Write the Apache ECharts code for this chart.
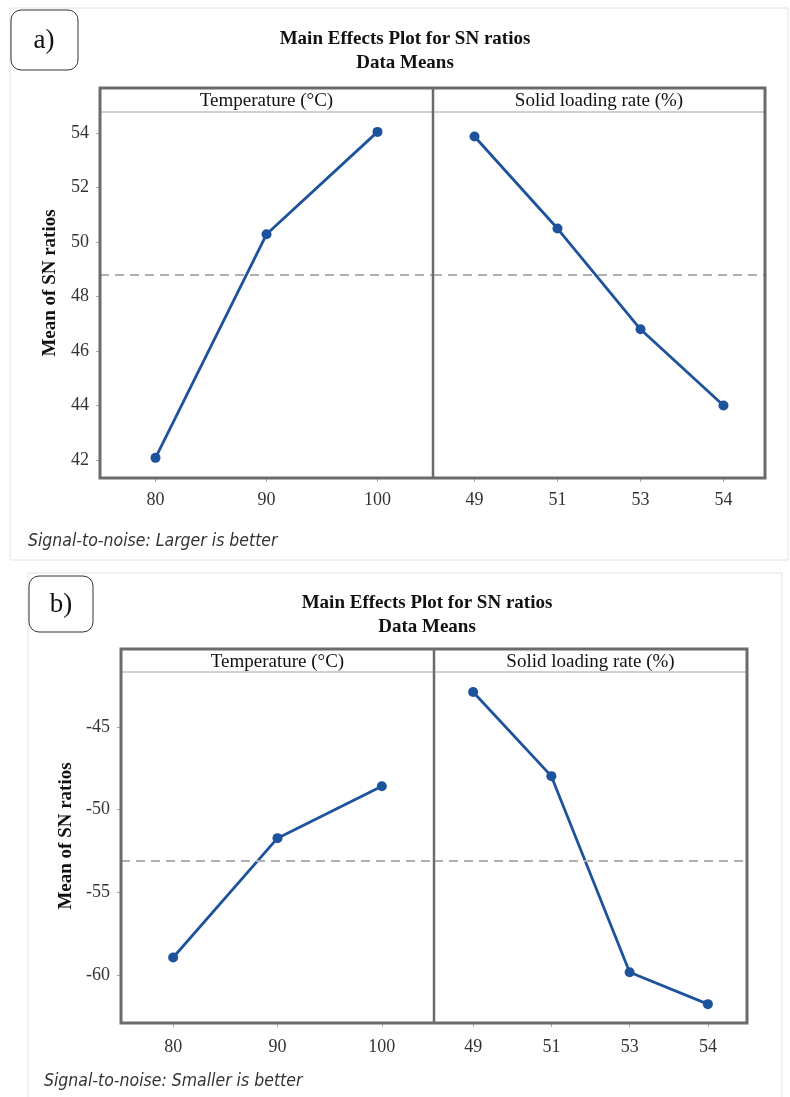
<!DOCTYPE html>
<html>
<head>
<meta charset="utf-8">
<script src="https://cdn.jsdelivr.net/npm/echarts@6/dist/echarts.min.js"></script>
<style>
  html, body { margin: 0; padding: 0; background: #fff; }
  #chart { width: 790px; height: 1097px; }
</style>
</head>
<body>
<div id="chart"></div>
<script>
const tempCats = ['80', '90', '100'];
const solidCats = ['49', '51', '53', '54'];
const facetNames = ['Temperature (°C)', 'Solid loading rate (%)'];

const tempA = [42.08, 50.29, 54.05];
const solidA = [53.88, 50.5, 46.8, 44.0];
const meanA = 48.81;

const tempB = [-58.95, -51.73, -48.59];
const solidB = [-42.89, -47.98, -59.84, -61.77];
const meanB = -53.08;

const blue = '#1c539c';
const serif = '"Liberation Serif", "Times New Roman", serif';
const narrow = '"DejaVu Sans Condensed", "Liberation Sans Narrow", sans-serif';

// panel layout: frame box, header line, divider, y range
const panels = [
  { frame: [100, 88, 765, 478], header: 112, div: 433, ymin: 41.34, ymax: 54.78, split: 6,
    temp: tempA, solid: solidA, mean: meanA, xMargin: 13, nameX: 50,
    title: [405, 39, 63], note: [28, 541, 'Signal-to-noise: Larger is better'] },
  { frame: [121, 649, 747, 1023], header: 672, div: 434, ymin: -62.91, ymax: -41.68, split: 4,
    temp: tempB, solid: solidB, mean: meanB, xMargin: 15, nameX: 66,
    title: [427, 603, 627], note: [44, 1081, 'Signal-to-noise: Smaller is better'] }
];

const grids = [], xAxes = [], yAxes = [], series = [];

panels.forEach(function (p) {
  const f = p.frame;
  const gl = { left: f[0], top: p.header, width: p.div - f[0], height: f[3] - p.header };
  const gr = { left: p.div, top: p.header, width: f[2] - p.div, height: f[3] - p.header };
  [gl, gr].forEach(function (g, k) {
    const idx = grids.length;
    grids.push(g);
    xAxes.push({
      type: 'category', gridIndex: idx, data: k === 0 ? tempCats : solidCats,
      boundaryGap: true,
      axisLine: { show: false },
      axisTick: { show: true, alignWithLabel: true, length: 4, lineStyle: { color: '#aaa' } },
      axisLabel: { color: '#333', fontFamily: serif, fontSize: 18, margin: p.xMargin }
    });
    yAxes.push({
      type: 'value', gridIndex: idx, min: p.ymin, max: p.ymax, splitNumber: p.split,
      splitLine: { show: false },
      axisLine: { show: false },
      axisTick: { show: k === 0, length: 4, lineStyle: { color: '#aaa' } },
      axisLabel: { show: k === 0, showMinLabel: false, showMaxLabel: false,
        color: '#333', fontFamily: serif, fontSize: 18, margin: 11 }
    });
    series.push({
      type: 'line', xAxisIndex: idx, yAxisIndex: idx,
      data: k === 0 ? p.temp : p.solid,
      symbol: 'circle', symbolSize: 10,
      lineStyle: { color: blue, width: 2.8 },
      itemStyle: { color: blue },
      markLine: {
        silent: true, symbol: 'none', label: { show: false },
        lineStyle: { color: '#b0b0b0', type: [9, 6], width: 2 },
        data: [{ yAxis: p.mean }]
      }
    });
  });
});

const graphics = [];
function txt(x, y, s, style, rot) {
  graphics.push({ type: 'text', x: x, y: y, z: 10, rotation: rot || 0,
    style: Object.assign({ text: s, fill: '#111', font: '19px ' + serif, textAlign: 'center', textVerticalAlign: 'middle' }, style) });
}
function line(x1, y1, x2, y2, color, w) {
  graphics.push({ type: 'line', z: 10, shape: { x1: x1, y1: y1, x2: x2, y2: y2 }, style: { stroke: color, lineWidth: w } });
}

// outer light borders
graphics.push({ type: 'rect', z: 0, shape: { x: 10, y: 8, width: 778, height: 552 }, style: { fill: 'none', stroke: '#e2e2e2', lineWidth: 1 } });
graphics.push({ type: 'rect', z: 0, shape: { x: 28, y: 573, width: 754, height: 530 }, style: { fill: 'none', stroke: '#e2e2e2', lineWidth: 1 } });

// label boxes
graphics.push({ type: 'rect', z: 10, shape: { x: 11, y: 10, width: 67, height: 60, r: 10 }, style: { fill: '#fff', stroke: '#333', lineWidth: 1 } });
txt(44, 41, 'a)', { font: '27px ' + serif });
graphics.push({ type: 'rect', z: 10, shape: { x: 29, y: 576, width: 64, height: 56, r: 10 }, style: { fill: '#fff', stroke: '#333', lineWidth: 1 } });
txt(61, 605, 'b)', { font: '27px ' + serif });

panels.forEach(function (p) {
  const f = p.frame;
  // titles
  txt(p.title[0], p.title[1], 'Main Effects Plot for SN ratios', { font: 'bold 19px ' + serif });
  txt(p.title[0], p.title[2], 'Data Means', { font: 'bold 19px ' + serif });
  // facet frame and header strip
  line(f[0], p.header, f[2], p.header, '#a0a0a0', 1);
  graphics.push({ type: 'rect', z: 11, shape: { x: f[0], y: f[1], width: f[2] - f[0], height: f[3] - f[1] },
    style: { fill: 'none', stroke: '#6b6b6b', lineWidth: 3 } });
  line(p.div, f[1], p.div, f[3], '#6b6b6b', 2.5);
  const hy = (f[1] + p.header) / 2 + 1.5;
  txt((f[0] + p.div) / 2, hy, facetNames[0]);
  txt((p.div + f[2]) / 2, hy, facetNames[1]);
  // y axis title, centred on the whole frame
  txt(p.nameX, (f[1] + f[3]) / 2, 'Mean of SN ratios', { font: 'bold 19px ' + serif }, Math.PI / 2);
  // footnote
  txt(p.note[0], p.note[1], p.note[2], { font: 'italic 17.5px ' + narrow, textAlign: 'left', fill: '#333' });
});

const chart = echarts.init(document.getElementById('chart'));
chart.setOption({
  backgroundColor: '#fff',
  animation: false,
  grid: grids,
  xAxis: xAxes,
  yAxis: yAxes,
  series: series,
  graphic: graphics
});
</script>
</body>
</html>
